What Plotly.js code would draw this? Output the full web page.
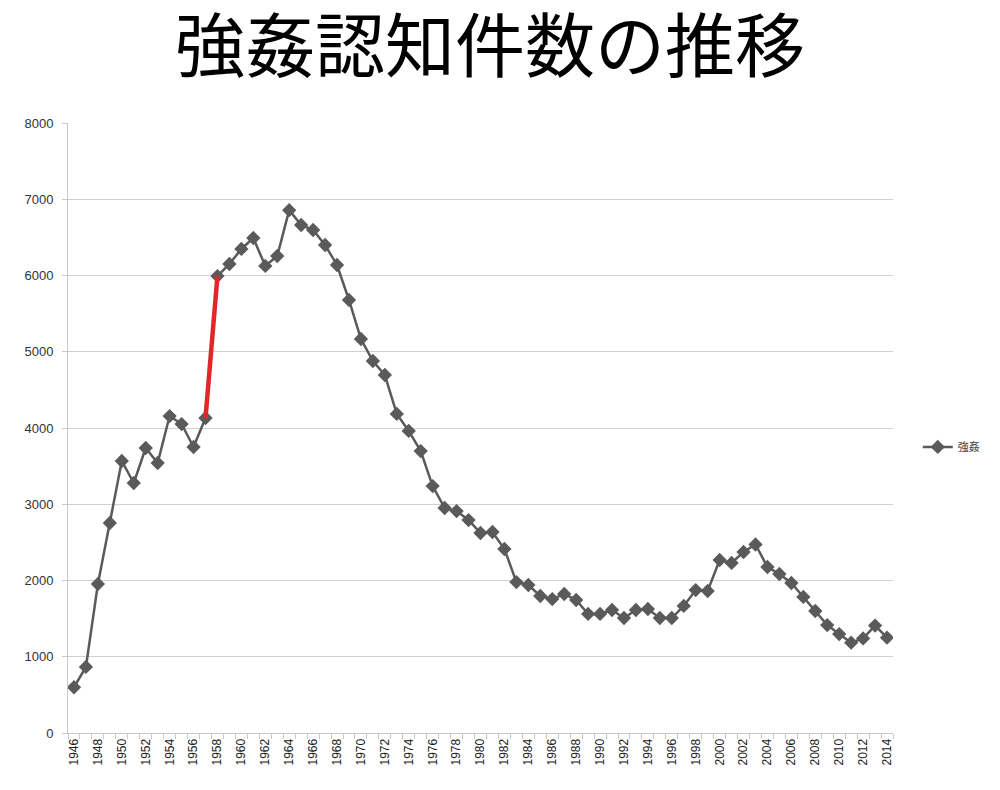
<!DOCTYPE html>
<html>
<head>
<meta charset="utf-8">
<script src="https://cdn.plot.ly/plotly-3.0.1.min.js"></script>
<style>html,body{margin:0;padding:0;background:#fff;}#chart{width:1000px;height:790px;}</style>
</head>
<body>
<div id="chart"></div>
<script>
const years = [1946,1947,1948,1949,1950,1951,1952,1953,1954,1955,1956,1957,1958,1959,1960,1961,1962,1963,1964,1965,1966,1967,1968,1969,1970,1971,1972,1973,1974,1975,1976,1977,1978,1979,1980,1981,1982,1983,1984,1985,1986,1987,1988,1989,1990,1991,1992,1993,1994,1995,1996,1997,1998,1999,2000,2001,2002,2003,2004,2005,2006,2007,2008,2009,2010,2011,2012,2013,2014];
const rapeCases = [600,866,1954,2754,3567,3279,3738,3541,4157,4052,3751,4131,5993,6151,6348,6492,6125,6256,6857,6662,6597,6400,6138,5679,5167,4879,4695,4184,3961,3698,3239,2951,2911,2793,2623,2636,2413,1980,1941,1797,1757,1823,1744,1561,1561,1613,1508,1613,1626,1508,1508,1666,1875,1862,2269,2230,2374,2472,2177,2085,1967,1784,1600,1416,1298,1185,1240,1409,1250];
const highlightYears = [1957, 1958];
const highlightValues = [4131, 5993];
const tickYears = [];
for (let y = 1946; y <= 2014; y += 2) tickYears.push(y);
const tickLabels = tickYears.map(String);

const traces = [
  {
    x: years, y: rapeCases, name: '強姦', type: 'scatter', mode: 'lines+markers',
    line: {color: '#5a5a5a', width: 2.5},
    marker: {symbol: 'diamond', size: 11, color: '#5a5a5a'}
  },
  {
    x: highlightYears, y: highlightValues, type: 'scatter', mode: 'lines',
    line: {color: '#e02828', width: 4.5}, showlegend: false, hoverinfo: 'skip'
  }
];

const layout = {
  width: 1000, height: 790,
  margin: {l: 68, r: 107, t: 123, b: 57},
  paper_bgcolor: '#ffffff', plot_bgcolor: '#ffffff',
  title: {
    text: '強姦認知件数の推移',
    font: {family: 'Noto Sans CJK JP', size: 70, color: '#000000', weight: 400},
    x: 0.49, xanchor: 'center', y: 0.94, yanchor: 'middle'
  },
  xaxis: {
    range: [1945.5, 2014.5],
    tickmode: 'array', tickvals: tickYears, ticktext: tickLabels,
    tickangle: -90, ticks: '', ticklen: 0,
    tickfont: {family: 'Liberation Sans, Arial', size: 12, color: '#222222'},
    showgrid: false, zeroline: false,
    showline: true, linecolor: '#c8c8c8', linewidth: 1,
    minor: {tickmode: 'linear', tick0: 1945.5, dtick: 1, ticks: 'outside', ticklen: 5, tickcolor: '#c8c8c8', showgrid: false}
  },
  yaxis: {
    range: [0, 8000], dtick: 1000, tick0: 0,
    tickfont: {family: 'Liberation Sans, Arial', size: 13, color: '#333333'},
    ticklabelstandoff: 6,
    showgrid: true, gridcolor: '#d0d0d0', gridwidth: 1,
    zeroline: false, showline: true, linecolor: '#c8c8c8', linewidth: 1,
    ticks: 'outside', ticklen: 5, tickcolor: '#c8c8c8'
  },
  showlegend: true,
  legend: {
    x: 1.03, y: 0.469, xanchor: 'left', yanchor: 'middle',
    font: {family: 'Noto Sans CJK JP', size: 11, color: '#444444'},
    bgcolor: 'rgba(0,0,0,0)', itemwidth: 30
  }
};

Plotly.newPlot('chart', traces, layout, {displayModeBar: false, staticPlot: true});
</script>
</body>
</html>
